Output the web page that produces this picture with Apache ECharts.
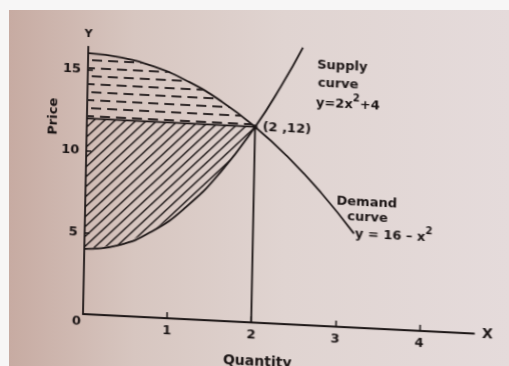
<!DOCTYPE html>
<html>
<head>
<meta charset="utf-8">
<script src="https://cdn.jsdelivr.net/npm/echarts@6/dist/echarts.min.js"></script>
<style>
  html, body { margin: 0; padding: 0; width: 509px; height: 366px; overflow: hidden; background: #f7f6f6; }
  #paper {
    position: absolute; left: 9px; top: 10px; width: 500px; height: 356px;
    background: linear-gradient(90deg, #c7aba2 0%, #d7c6c0 25%, #e0d4d1 55%, #e5dbdb 100%);
  }
  #chart {
    position: absolute; left: 0; top: 0; width: 509px; height: 366px;
    transform-origin: 83px 314px;
    transform: matrix(1, 0.05, -0.02, 1, 0, 0);
  }
</style>
</head>
<body>
<div id="paper"></div>
<div id="chart"></div>
<script>
// Demand curve  y = 16 - x^2
const demandQty   = [0, 0.4, 0.8, 1.2, 1.6, 2, 2.4, 2.8, 3.2];
const demandPrice = [16, 15.84, 15.36, 14.56, 13.44, 12, 10.24, 8.16, 5.76];
// Supply curve  y = 2x^2 + 4
const supplyQty   = [0, 0.4, 0.8, 1.2, 1.6, 2, 2.3, 2.55];
const supplyPrice = [4, 4.32, 5.28, 6.88, 9.12, 12, 14.58, 17.0];
// Market equilibrium (quantity, price)
const eqQty = 2;
const eqPrice = 12;
// Axis ticks
const xTickValues = [1, 2, 3, 4];
const yTickValues = [5, 10, 15];

const INK = '#1a1414';
const FONT = 'DejaVu Sans';

const demandPts = demandQty.map((q, i) => [q, demandPrice[i]]);
const supplyPts = supplyQty.map((q, i) => [q, supplyPrice[i]]);

// Consumers' surplus: between the demand curve and the equilibrium price
const consumerPoly = [[0, eqPrice]]
  .concat(demandPts.filter(p => p[0] <= eqQty))
  .concat([[eqQty, eqPrice]]);
// Producers' surplus: between the equilibrium price and the supply curve
const producerPoly = [[0, eqPrice], [eqQty, eqPrice]]
  .concat(supplyPts.filter(p => p[0] <= eqQty).reverse());

// Diagonal hatching tile
function hatchTile() {
  const c = document.createElement('canvas');
  c.width = 10; c.height = 10;
  const g = c.getContext('2d');
  g.strokeStyle = INK; g.lineWidth = 1.4; g.lineCap = 'square';
  g.beginPath();
  g.moveTo(0, 10); g.lineTo(10, 0);
  g.moveTo(-2, 2); g.lineTo(2, -2);
  g.moveTo(8, 12); g.lineTo(12, 8);
  g.stroke();
  return c;
}
// Staggered horizontal dash tile
function dashTile() {
  const c = document.createElement('canvas');
  c.width = 16; c.height = 16;
  const g = c.getContext('2d');
  g.fillStyle = '#2e2727';
  g.fillRect(0, 3, 10, 2);
  g.fillRect(7, 11, 9, 2);
  g.fillRect(0, 11, 1, 2);
  return c;
}

function polygonSeries(poly, tile) {
  const pattern = { image: tile, repeat: 'repeat' };
  return {
    type: 'custom',
    coordinateSystem: 'cartesian2d',
    data: [[0, 0]],
    silent: true,
    z: 1,
    renderItem: function (params, api) {
      return {
        type: 'polygon',
        shape: { points: poly.map(p => api.coord(p)) },
        style: { fill: pattern, stroke: null }
      };
    }
  };
}

const lineStyle = { color: INK, width: 1.8 };
const textStyle = { fontFamily: FONT, fontWeight: 'bold', color: INK };

// Annotation text with a raised exponent
function formulaText(x, y, before, after) {
  return {
    type: 'text', x: x, y: y,
    style: {
      text: '{a|' + before + '}{s|2}' + (after ? '{a|' + after + '}' : ''),
      verticalAlign: 'middle',
      rich: {
        a: { fontFamily: FONT, fontWeight: 'bold', fontSize: 13, fill: INK, lineHeight: 18, verticalAlign: 'bottom' },
        s: { fontFamily: FONT, fontWeight: 'bold', fontSize: 10, fill: INK, lineHeight: 18, verticalAlign: 'top' }
      }
    }
  };
}
function plainText(x, y, text, extra) {
  return Object.assign({
    type: 'text', x: x, y: y,
    style: { text: text, font: 'bold 13px "DejaVu Sans"', fill: INK, verticalAlign: 'middle' }
  }, extra || {});
}

const chart = echarts.init(document.getElementById('chart'), null, { renderer: 'canvas' });
chart.setOption({
  backgroundColor: 'transparent',
  animation: false,
  grid: { left: 83, right: 35, top: 46.7, bottom: 52, containLabel: false },
  xAxis: {
    type: 'value', min: 0, max: 4.65,
    name: 'X', nameLocation: 'end', nameGap: 8,
    nameTextStyle: Object.assign({ fontSize: 14, verticalAlign: 'middle' }, textStyle),
    axisLine: { show: true, lineStyle: { color: INK, width: 1.8 } },
    axisTick: { show: true, inside: true, length: 6, customValues: xTickValues, lineStyle: { color: INK, width: 1.5 } },
    axisLabel: Object.assign({ customValues: xTickValues, fontSize: 13, margin: 6 }, textStyle),
    splitLine: { show: false }
  },
  yAxis: {
    type: 'value', min: 0, max: 16.4,
    name: 'Y', nameLocation: 'end', nameGap: 7,
    nameTextStyle: Object.assign({ fontSize: 11, align: 'center' }, textStyle),
    axisLine: { show: true, lineStyle: { color: INK, width: 1.8 } },
    axisTick: { show: true, inside: true, length: 5, customValues: yTickValues, lineStyle: { color: INK, width: 1.5 } },
    axisLabel: Object.assign({ customValues: yTickValues, fontSize: 13, margin: 7 }, textStyle),
    splitLine: { show: false }
  },
  series: [
    polygonSeries(consumerPoly, dashTile()),
    polygonSeries(producerPoly, hatchTile()),
    {
      name: 'Demand', type: 'line', data: demandPts, smooth: true,
      showSymbol: false, clip: false, z: 3, lineStyle: lineStyle
    },
    {
      name: 'Supply', type: 'line', data: supplyPts, smooth: true,
      showSymbol: false, clip: false, z: 3, lineStyle: lineStyle
    },
    {
      name: 'Equilibrium price', type: 'line',
      data: [[0, eqPrice], [eqQty, eqPrice]],
      showSymbol: false, z: 3, lineStyle: lineStyle
    },
    {
      name: 'Equilibrium quantity', type: 'line',
      data: [[eqQty, 0], [eqQty, eqPrice]],
      showSymbol: false, z: 3, lineStyle: lineStyle
    },
    {
      name: 'Equilibrium', type: 'scatter',
      data: [[eqQty, eqPrice]],
      symbolSize: 5, z: 4,
      itemStyle: { color: INK },
      label: Object.assign({
        show: true, position: 'right', distance: 5, fontSize: 13,
        textBorderWidth: 0, opacity: 1,
        formatter: '(' + eqQty + ' ,' + eqPrice + ')'
      }, textStyle)
    }
  ],
  graphic: [
    plainText(72, 322, '0'),
    plainText(50, 118, 'Price', { rotation: Math.PI / 2, style: { text: 'Price', font: 'bold 13px "DejaVu Sans"', fill: INK, align: 'center', verticalAlign: 'middle' } }),
    plainText(258, 353, 'Quantity', { style: { text: 'Quantity', font: 'bold 14px "DejaVu Sans"', fill: INK, align: 'center', verticalAlign: 'middle' } }),
    plainText(312, 54, 'Supply'),
    plainText(313, 71.5, 'curve'),
    formulaText(311.5, 89, 'y=2x', '+4'),
    plainText(334, 189, 'Demand'),
    plainText(345, 203.5, 'curve'),
    formulaText(353, 218, 'y = 16 – x', '')
  ]
});
</script>
</body>
</html>
